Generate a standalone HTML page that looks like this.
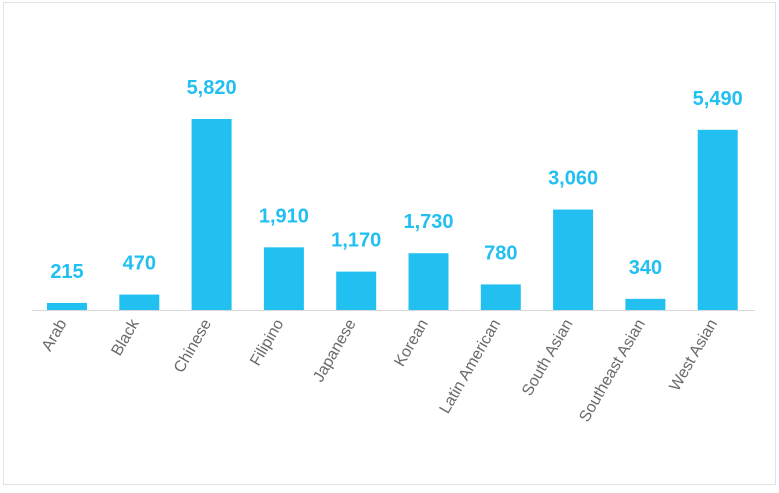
<!DOCTYPE html>
<html><head><meta charset="utf-8"><style>
html,body{margin:0;padding:0;background:#fff;}
body{width:779px;height:488px;overflow:hidden;font-family:"Liberation Sans",sans-serif;}
</style></head><body>
<svg id="chart" width="779" height="488" xmlns="http://www.w3.org/2000/svg">
<rect x="3.5" y="2.5" width="772" height="482" fill="#fff" stroke="#e2e2e2"/>
<line x1="32" y1="310.5" x2="755" y2="310.5" stroke="#d8d8d8"/>
<g id="bars"></g>
</svg>
<script>
const categories = ["Arab","Black","Chinese","Filipino","Japanese","Korean","Latin American","South Asian","Southeast Asian","West Asian"];
const values = [215,470,5820,1910,1170,1730,780,3060,340,5490];
const valueLabels = ["215","470","5,820","1,910","1,170","1,730","780","3,060","340","5,490"];

const baseY = 310, pxPerUnit = 191/5820;
const x0 = 67, step = 72.3, barW = 40;
const xCenter = i => x0 + i*step;
const yScale = v => baseY - v*pxPerUnit;
const ns = "http://www.w3.org/2000/svg";
const g = document.getElementById("bars");
categories.forEach((c,i)=>{
  const cx = xCenter(i), top = yScale(values[i]);
  const r = document.createElementNS(ns,"rect");
  
  
  r.setAttribute("x", cx-barW/2); r.setAttribute("y", top);
  r.setAttribute("width", barW); r.setAttribute("height", baseY-top);
  r.setAttribute("fill", "#22c0f0");
  g.appendChild(r);
  const t = document.createElementNS(ns,"text");
  
  
  t.setAttribute("x", cx); t.setAttribute("y", top-25);
  t.setAttribute("text-anchor","middle"); t.setAttribute("font-size","20");
  t.setAttribute("font-weight","bold"); t.setAttribute("fill","#22c0f0");
  t.textContent = valueLabels[i];
  g.appendChild(t);
  const l = document.createElementNS(ns,"text");
  
  
  l.setAttribute("transform", `translate(${cx},${baseY+13}) rotate(-60)`);
  l.setAttribute("text-anchor","end"); l.setAttribute("font-size","16");
  l.setAttribute("fill","#6a6a6a");
  l.textContent = c;
  g.appendChild(l);
});
</script>
</body></html>
